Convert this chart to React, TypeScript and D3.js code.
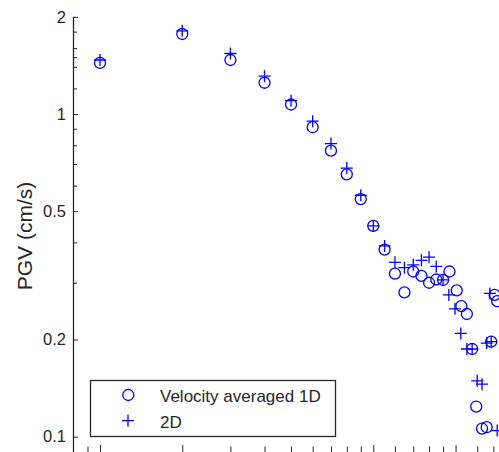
import React, { useEffect, useRef } from "react";
import { select, scaleLog, axisLeft, axisBottom } from "d3";

// series 1: "Velocity averaged 1D" (circles)
const circleX = [1, 2, 3, 4, 5, 6, 7, 8, 9, 10, 11, 12, 13, 14, 15, 16, 17, 18, 19, 20.2, 21, 22, 23, 23.8, 25, 26, 27, 27.8, 28.4];
const circleY = [1.44, 1.77, 1.47, 1.25, 1.07, 0.91, 0.77, 0.65, 0.545, 0.45, 0.38, 0.32, 0.28, 0.325, 0.315, 0.3, 0.307, 0.306, 0.325, 0.284, 0.254, 0.24, 0.187, 0.124, 0.106, 0.107, 0.197, 0.275, 0.263];

// series 2: "2D" (plus)
const plusX = [1, 2, 3, 4, 5, 6, 7, 8, 9, 10, 11, 12, 13, 14, 15, 16, 17, 18, 18.9, 19.9, 20.9, 22, 23, 24, 25, 26, 26.7, 27, 28.4];
const plusY = [1.47, 1.81, 1.54, 1.31, 1.1, 0.95, 0.81, 0.68, 0.56, 0.45, 0.39, 0.347, 0.334, 0.341, 0.352, 0.36, 0.337, 0.306, 0.275, 0.249, 0.209, 0.187, 0.187, 0.149, 0.1455, 0.195, 0.278, 0.197, 0.1045];

const yMajorTicks = [0.1, 0.2, 0.5, 1, 2];
const yMinorTicks = [0.3, 0.4, 0.6, 0.7, 0.8, 0.9, 1.2, 1.4, 1.5, 1.6, 1.8];
const xMajorTicks = [1, 2, 10, 20];
const xMinorTicks = [0.9, 3, 4, 5, 6, 7, 8, 9, 12, 14, 16, 18, 24, 27.5];

const legendLabels = ["Velocity averaged 1D", "2D"];
const yLabel = "PGV (cm/s)";

const App = () => {
  const ref = useRef<SVGSVGElement>(null);

  const width = 499;
  const height = 452;
  const blue = "#0000ff";
  const ink = "#262626";

  useEffect(() => {
    const svg = select(ref.current);
    svg.selectAll("*").remove();

    const x = scaleLog().domain([1, 10]).range([100, 373.3]);
    const y = scaleLog().domain([0.1, 1]).range([436.7, 114]);

    const axisX = 73;
    const axisY = 452;

    // y axis (ticks pointing inward)
    const yMaj = svg.append("g").attr("transform", `translate(${axisX},0)`)
      .call(axisLeft(y).tickValues(yMajorTicks).tickSizeInner(-5).tickSizeOuter(0).tickPadding(7).tickFormat((d: any) => String(d)));
    yMaj.select(".domain").remove();
    yMaj.selectAll("line").attr("stroke", ink);
    yMaj.selectAll("text").attr("fill", ink).style("font-size", "16.5px")
      .style("font-family", "'Liberation Sans', Arial, sans-serif");

    const yMin = svg.append("g").attr("transform", `translate(${axisX},0)`)
      .call(axisLeft(y).tickValues(yMinorTicks).tickSizeInner(-4).tickSizeOuter(0).tickFormat(() => ""));
    yMin.select(".domain").remove();
    yMin.selectAll("line").attr("stroke", ink);

    svg.append("line")
      .attr("x1", axisX + 0.5).attr("x2", axisX + 0.5)
      .attr("y1", y(2)).attr("y2", height)
      .attr("stroke", ink).attr("stroke-width", 1.3);

    // x axis (line sits just below the visible area)
    const xMaj = svg.append("g").attr("transform", `translate(0,${axisY})`)
      .call(axisBottom(x).tickValues(xMajorTicks).tickSizeInner(-7).tickSizeOuter(0).tickFormat(() => ""));
    xMaj.select(".domain").remove();
    xMaj.selectAll("line").attr("stroke", ink);

    const xMin = svg.append("g").attr("transform", `translate(0,${axisY})`)
      .call(axisBottom(x).tickValues(xMinorTicks).tickSizeInner(-5.5).tickSizeOuter(0).tickFormat(() => ""));
    xMin.select(".domain").remove();
    xMin.selectAll("line").attr("stroke", ink);

    // y label
    svg.append("text")
      .attr("transform", "translate(31.5,236) rotate(-90)")
      .attr("text-anchor", "middle")
      .attr("fill", ink)
      .style("font-size", "21px")
      .style("font-family", "'Liberation Sans', Arial, sans-serif")
      .text(yLabel);

    // circles
    svg.append("g").selectAll("circle")
      .data(circleX.map((d, i) => ({ x: d, y: circleY[i] })))
      .join("circle")
      .attr("cx", d => x(d.x))
      .attr("cy", d => y(d.y))
      .attr("r", 5.5)
      .attr("fill", "none")
      .attr("stroke", blue)
      .attr("stroke-width", 1.3);

    // plus markers
    const s = 6;
    svg.append("g").selectAll("path")
      .data(plusX.map((d, i) => ({ x: d, y: plusY[i] })))
      .join("path")
      .attr("d", d => {
        const px = x(d.x), py = y(d.y);
        return `M${px - s},${py}H${px + s}M${px},${py - s}V${py + s}`;
      })
      .attr("fill", "none")
      .attr("stroke", blue)
      .attr("stroke-width", 1.3);

    // legend
    const lg = svg.append("g");
    lg.append("rect")
      .attr("x", 90.5).attr("y", 380.5).attr("width", 245).attr("height", 56)
      .attr("fill", "white").attr("stroke", ink).attr("stroke-width", 1.3);
    lg.append("circle")
      .attr("cx", 128.3).attr("cy", 395).attr("r", 5.5)
      .attr("fill", "none").attr("stroke", blue).attr("stroke-width", 1.3);
    lg.append("path")
      .attr("d", `M${128 - s},420.7H${128 + s}M128,${420.7 - s}V${420.7 + s}`)
      .attr("stroke", blue).attr("stroke-width", 1.3);
    lg.selectAll("text")
      .data(legendLabels)
      .join("text")
      .attr("x", 160)
      .attr("y", (d, i) => (i === 0 ? 401.7 : 428.3))
      .attr("fill", ink)
      .style("font-size", "17px")
      .style("font-family", "'Liberation Sans', Arial, sans-serif")
      .text(d => d);
  }, []);

  return (
    <svg
      ref={ref}
      width={width}
      height={height}
      style={{ position: "absolute", left: 0, top: 0, background: "white" }}
    />
  );
};

export default App;
